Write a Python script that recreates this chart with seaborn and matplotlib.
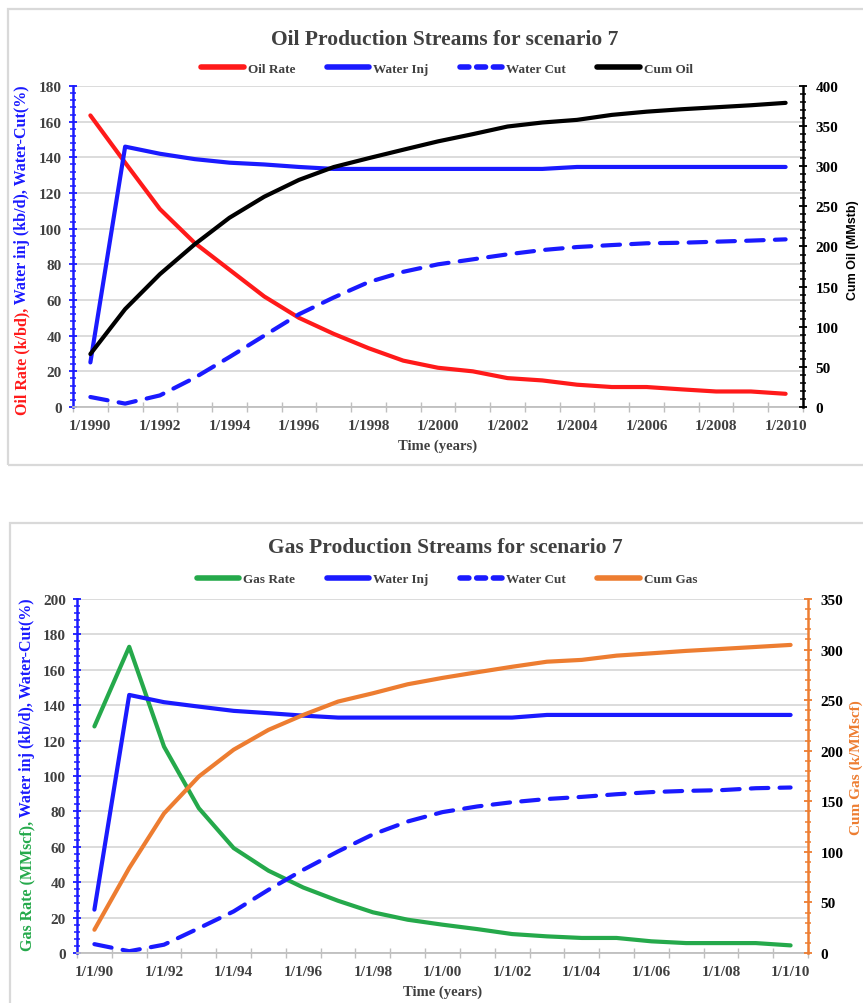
import numpy as np
import pandas as pd
import matplotlib
matplotlib.use("Agg")
import matplotlib.pyplot as plt
import seaborn as sns
from matplotlib.lines import Line2D
from matplotlib.patches import Rectangle
from matplotlib.ticker import MultipleLocator, FixedLocator, NullFormatter

# ---- data -------------------------------------------------------------
years = list(range(1990, 2011))
oil_tick_labels = [f"1/{y}" for y in years[::2]]
gas_tick_labels = [f"1/1/{y % 100:02d}" for y in years[::2]]

oil_rate = [163.5, 137, 111, 92, 77, 62, 50, 41, 33, 26, 22, 20, 16.2, 14.9,
            12.5, 11.2, 11.2, 9.9, 8.7, 8.7, 7.4]
water_inj_oil = [25, 146, 142, 139, 137, 136, 134.6, 133.5, 133.5, 133.5, 133.5,
                 133.5, 133.5, 133.5, 134.6, 134.6, 134.6, 134.6, 134.6, 134.6, 134.6]
water_cut_oil = [5.6, 1.9, 6.5, 16.4, 28, 40, 52, 61.4, 70, 75.8, 80, 82.8, 85.6,
                 88, 89.7, 90.8, 91.8, 92.1, 92.7, 93.3, 94]
cum_oil = [66, 122, 165.5, 202.7, 235.8, 262, 283, 299, 310, 320.6, 331, 340,
           349.5, 354.5, 357.8, 364, 368, 371, 373.5, 376, 379]

gas_rate = [128, 173, 116.6, 81.8, 59.3, 46.5, 37, 29.5, 23, 18.8, 16, 13.5, 10.7,
            9.4, 8.5, 8.5, 6.6, 5.6, 5.6, 5.6, 4.3]
water_inj_gas = [24.5, 145.8, 141.7, 139.2, 136.8, 135.5, 134.1, 133, 133, 133, 133,
                 133, 133, 134.5, 134.5, 134.5, 134.5, 134.5, 134.5, 134.5, 134.5]
water_cut_gas = [5, 1, 4.7, 14, 23.5, 35.7, 47, 57.4, 67, 74.3, 79.6, 82.8, 85.2,
                 87, 88.2, 89.7, 90.9, 91.6, 92, 93.1, 93.5]
cum_gas = [23, 84, 138, 174.5, 201, 220.6, 235.4, 248.6, 256.8, 265.7, 272, 277.6,
           283, 288, 289.8, 294, 296.3, 298.7, 300.6, 302.6, 304.6]

# ---- style ------------------------------------------------------------
sns.set_theme(style="white")
SERIF = ["Liberation Serif", "DejaVu Serif"]
plt.rcParams["font.family"] = SERIF

RED = "#ff1a1a"
BLUE = "#1a1aff"
GREEN = "#25a94b"
ORANGE = "#ed7d31"
BLACK = "#000000"
GRID = "#d9d9d9"
TXT = "#404040"

W, H = 863, 1004
fig = plt.figure(figsize=(W / 100, H / 100), dpi=100)


def fx(px):
    return px / W


def fy(py):
    return 1 - py / H


def frame(x0, y0, x1, y1):
    fig.patches.append(Rectangle((fx(x0), fy(y1)), fx(x1) - fx(x0), fy(y0) - fy(y1),
                                 transform=fig.transFigure, fill=False,
                                 edgecolor=GRID, lw=1.6, zorder=0))


def stacked_ylabel(x_px, yc_px, pieces, size):
    """Rotated label made of differently coloured pieces, read bottom to top."""
    renderer = fig.canvas.get_renderer()
    texts = []
    for s, c in pieces:
        t = fig.text(0, 0, s, rotation=90, ha="center", va="bottom", color=c,
                     fontsize=size, fontweight="bold", family=SERIF)
        texts.append(t)
    heights = [t.get_window_extent(renderer).height for t in texts]
    total = sum(heights)
    start = (H - yc_px) - total / 2  # pixel from bottom
    for t, h in zip(texts, heights):
        t.set_position((fx(x_px), start / H))
        start += h


def style_axes(ax, ax2, left_color, right_color, ymax, ymax2, tick_labels):
    n = len(years)
    ax.set_xlim(-0.5, n - 0.5)
    ax.set_ylim(0, ymax)
    ax2.set_ylim(0, ymax2)

    ax.xaxis.set_major_locator(FixedLocator(np.arange(0, n, 2)))
    ax.set_xticklabels(tick_labels)
    ax.xaxis.set_minor_locator(FixedLocator(np.arange(-0.5, n, 1.0)))
    ax.xaxis.set_minor_formatter(NullFormatter())
    ax.tick_params(axis="x", which="major", length=0, pad=9, labelsize=11,
                   labelcolor=TXT)
    ax.tick_params(axis="x", which="minor", direction="inout", length=7,
                   width=1.0, color="#bfbfbf", bottom=True)

    ax.yaxis.set_major_locator(MultipleLocator(20))
    ax.yaxis.set_minor_locator(MultipleLocator(4))
    ax.tick_params(axis="y", which="major", direction="inout", length=6, width=1.3,
                   color=left_color, labelsize=11, labelcolor=TXT, pad=5, left=True)
    ax.tick_params(axis="y", which="minor", direction="inout", length=4, width=1.1,
                   color=left_color, left=True)
    for lab in ax.get_xticklabels() + ax.get_yticklabels():
        lab.set_fontweight("bold")

    ax2.yaxis.set_major_locator(MultipleLocator(50))
    ax2.yaxis.set_minor_locator(MultipleLocator(10))
    ax2.tick_params(axis="y", which="major", direction="inout", length=6, width=1.3,
                    color=right_color, labelsize=11, labelcolor=BLACK, pad=6,
                    right=True)
    ax2.tick_params(axis="y", which="minor", direction="inout", length=4, width=1.1,
                    color=right_color, right=True)
    for lab in ax2.get_yticklabels():
        lab.set_fontweight("bold")

    ax.grid(axis="y", color=GRID, lw=1.3)
    ax.grid(axis="x", visible=False)
    ax2.grid(False)
    ax.set_axisbelow(True)

    for s in ("top", "right"):
        ax.spines[s].set_visible(False)
    ax.spines["left"].set_color(left_color)
    ax.spines["left"].set_linewidth(1.8)
    ax.spines["bottom"].set_color("#bfbfbf")
    ax.spines["bottom"].set_linewidth(1.3)
    for s in ("top", "left", "bottom"):
        ax2.spines[s].set_visible(False)
    ax2.spines["right"].set_color(right_color)
    ax2.spines["right"].set_linewidth(1.8)
    ax.set_xlabel("Time (years)", fontsize=10.5, fontweight="bold", color=TXT,
                  labelpad=4)
    ax.set_ylabel("")
    ax2.set_ylabel("")


def draw(ax, y, color, dashed=False):
    df = pd.DataFrame({"t": np.arange(len(years)), "v": y})
    kw = dict(lw=3.0, solid_capstyle="round", dash_capstyle="round")
    if dashed:
        kw["linestyle"] = (0, (4.2, 2.7))
    sns.lineplot(data=df, x="t", y="v", ax=ax, color=color, legend=False, **kw)


def legend(y_px, entries):
    handles = []
    for lab, col, dashed in entries:
        ls = (0, (1.6, 1.4)) if dashed else "-"
        handles.append(Line2D([], [], color=col, lw=4, linestyle=ls,
                              dash_capstyle="round", label=lab))
    leg = fig.legend(handles=handles, loc="center",
                     bbox_to_anchor=(fx(447), fy(y_px)), ncol=4, frameon=False,
                     handlelength=3.2, handletextpad=0.3, columnspacing=2.4,
                     prop={"family": SERIF, "weight": "bold", "size": 9.5})
    for t in leg.get_texts():
        t.set_color(TXT)


# ---- oil chart ---------------------------------------------------------
frame(8, 10, 875, 466)
ax1 = fig.add_axes([fx(73), fy(408), fx(803) - fx(73), fy(87) - fy(408)])
ax1b = ax1.twinx()
draw(ax1, oil_rate, RED)
draw(ax1, water_inj_oil, BLUE)
draw(ax1, water_cut_oil, BLUE, dashed=True)
draw(ax1b, cum_oil, BLACK)
style_axes(ax1, ax1b, BLUE, BLACK, 180, 400, oil_tick_labels)
fig.text(fx(445), fy(40), "Oil Production Streams for scenario 7", ha="center",
         va="center", fontsize=15.5, fontweight="bold", color=TXT, family=SERIF)
legend(70, [("Oil Rate", RED, False), ("Water Inj", BLUE, False),
            ("Water Cut", BLUE, True), ("Cum Oil", BLACK, False)])
fig.text(fx(853), fy(250), "Cum Oil (MMstb)", rotation=90, ha="center",
         va="center", fontsize=9, fontweight="bold", color=BLACK,
         family=["Liberation Sans", "DejaVu Sans"])

# ---- gas chart ---------------------------------------------------------
frame(10, 524, 875, 1012)
ax2 = fig.add_axes([fx(77), fy(954), fx(808) - fx(77), fy(600) - fy(954)])
ax2b = ax2.twinx()
draw(ax2, gas_rate, GREEN)
draw(ax2, water_inj_gas, BLUE)
draw(ax2, water_cut_gas, BLUE, dashed=True)
draw(ax2b, cum_gas, ORANGE)
style_axes(ax2, ax2b, BLUE, ORANGE, 200, 350, gas_tick_labels)
fig.text(fx(445), fy(548), "Gas Production Streams for scenario 7", ha="center",
         va="center", fontsize=15.5, fontweight="bold", color=TXT, family=SERIF)
legend(580, [("Gas Rate", GREEN, False), ("Water Inj", BLUE, False),
             ("Water Cut", BLUE, True), ("Cum Gas", ORANGE, False)])
fig.text(fx(856), fy(768), "Cum Gas (k/MMscf)", rotation=90, ha="center",
         va="center", fontsize=11, fontweight="bold", color=ORANGE, family=SERIF)

stacked_ylabel(22, 250, [("Oil Rate (k/bd),", RED),
                         (" Water inj (kb/d), Water-Cut(%)", BLUE)], 11.5)
stacked_ylabel(27, 775, [("Gas Rate (MMscf),", GREEN),
                         (" Water inj (kb/d), Water-Cut(%)", BLUE)], 11.5)

fig.savefig("out.png", dpi=100)
